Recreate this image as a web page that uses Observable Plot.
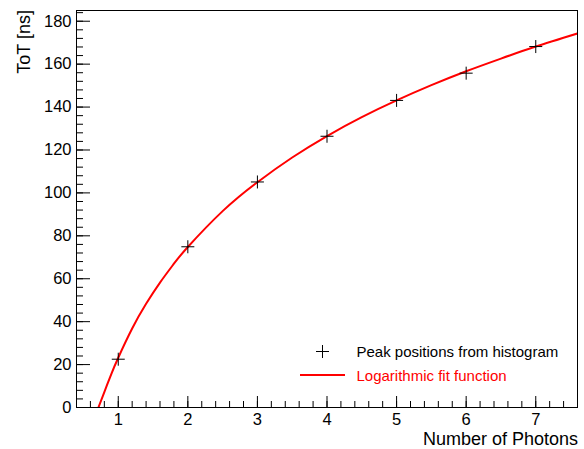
<!DOCTYPE html>
<html>
<head>
<meta charset="utf-8">
<script src="https://cdn.jsdelivr.net/npm/d3@7"></script>
<script src="https://cdn.jsdelivr.net/npm/@observablehq/plot@0.6"></script>
<style>
  html, body { margin: 0; padding: 0; background: #fff; }
  #chart { width: 584px; height: 449px; }
</style>
</head>
<body>
<div id="chart"></div>
<script>
// Measured peak positions
const photons = [1, 2, 3, 4, 5, 6, 7];
const tot = [22.5, 74.9, 105.1, 126.4, 143.1, 155.8, 168.2];

// Logarithmic fit curve
const fitX = [0.715, 0.8, 0.9, 1, 1.2, 1.4, 1.6, 1.8, 2, 2.5, 3, 3.5, 4, 4.5, 5, 5.5, 6, 6.5, 7, 7.6];
const fitY = [0, 7.2, 15.6, 23.2, 36.8, 48.3, 58.2, 67.0, 74.8, 91.5, 105.0, 116.5, 126.5, 135.3, 143.1, 150.2, 156.7, 162.6, 168.2, 174.3];

// Axis ticks
const xMajor = [1, 2, 3, 4, 5, 6, 7];
const xMinor = d3.range(2, 39).map(i => +(i * 0.2).toFixed(1));
const yMajor = [0, 20, 40, 60, 80, 100, 120, 140, 160, 180];
const yMinor = d3.range(0, 47).map(i => i * 4);

const points = photons.map((x, i) => ({x, y: tot[i]}));
const fit = fitX.map((x, i) => ({x, y: fitY[i]}));

const plusSym = {
  draw(ctx) {
    const r = 6.5;
    ctx.moveTo(-r, 0); ctx.lineTo(r, 0);
    ctx.moveTo(0, -r); ctx.lineTo(0, r);
  }
};

const font = "'Liberation Sans', Arial, Helvetica, sans-serif";

const chart = Plot.plot({
  width: 584,
  height: 449,
  marginLeft: 76,
  marginRight: 7,
  marginTop: 10,
  marginBottom: 42,
  style: {fontFamily: font, background: "#fff", color: "black"},
  x: {domain: [0.4, 7.6], label: null},
  y: {domain: [0, 185], label: null},
  marks: [
    Plot.line(fit, {x: "x", y: "y", stroke: "#ff0000", strokeWidth: 2, curve: "natural", clip: true}),
    Plot.dot(points, {x: "x", y: "y", symbol: plusSym, stroke: "black", fill: "none", strokeWidth: 1, r: 5}),
    Plot.frame({stroke: "black", strokeWidth: 1}),
    Plot.axisX(xMinor, {anchor: "bottom", tickSize: -6, tickFormat: () => "", label: null, stroke: "black"}),
    Plot.axisX(xMajor, {anchor: "bottom", tickSize: -11, tickFormat: () => "", label: null, stroke: "black"}),
    Plot.axisX(xMajor, {anchor: "bottom", tickSize: 0, tickPadding: 6, label: null, fontSize: 16.5, fill: "black"}),
    Plot.axisY(yMinor, {anchor: "left", tickSize: -7, tickFormat: () => "", label: null, stroke: "black"}),
    Plot.axisY(yMajor, {anchor: "left", tickSize: -14, tickFormat: () => "", label: null, stroke: "black"}),
    Plot.axisY(yMajor, {anchor: "left", tickSize: 0, tickPadding: 5, label: null, fontSize: 16.5, fill: "black"})
  ]
});

document.getElementById("chart").appendChild(chart);

// Axis titles and in-frame legend
const svg = d3.select(chart);
svg.append("text")
  .attr("x", 578).attr("y", 445)
  .attr("text-anchor", "end")
  .attr("font-family", font).attr("font-size", 18).attr("fill", "black")
  .text("Number of Photons");
svg.append("text")
  .attr("transform", "translate(30,10) rotate(-90)")
  .attr("text-anchor", "end")
  .attr("font-family", font).attr("font-size", 18).attr("fill", "black")
  .text("ToT [ns]");

const leg = svg.append("g").attr("text-anchor", "start");
leg.append("path")
  .attr("d", "M316,351.5h13M322.5,345v13")
  .attr("stroke", "black").attr("stroke-width", 1).attr("fill", "none");
leg.append("text")
  .attr("x", 356.5).attr("y", 356.5)
  .attr("text-anchor", "start")
  .attr("font-family", font).attr("font-size", 15).attr("fill", "black")
  .text("Peak positions from histogram");
leg.append("line")
  .attr("x1", 300).attr("x2", 345).attr("y1", 375).attr("y2", 375)
  .attr("stroke", "#ff0000").attr("stroke-width", 2);
leg.append("text")
  .attr("x", 356.5).attr("y", 381.3)
  .attr("text-anchor", "start")
  .attr("font-family", font).attr("font-size", 15).attr("fill", "#ff0000")
  .text("Logarithmic fit function");
</script>
</body>
</html>
